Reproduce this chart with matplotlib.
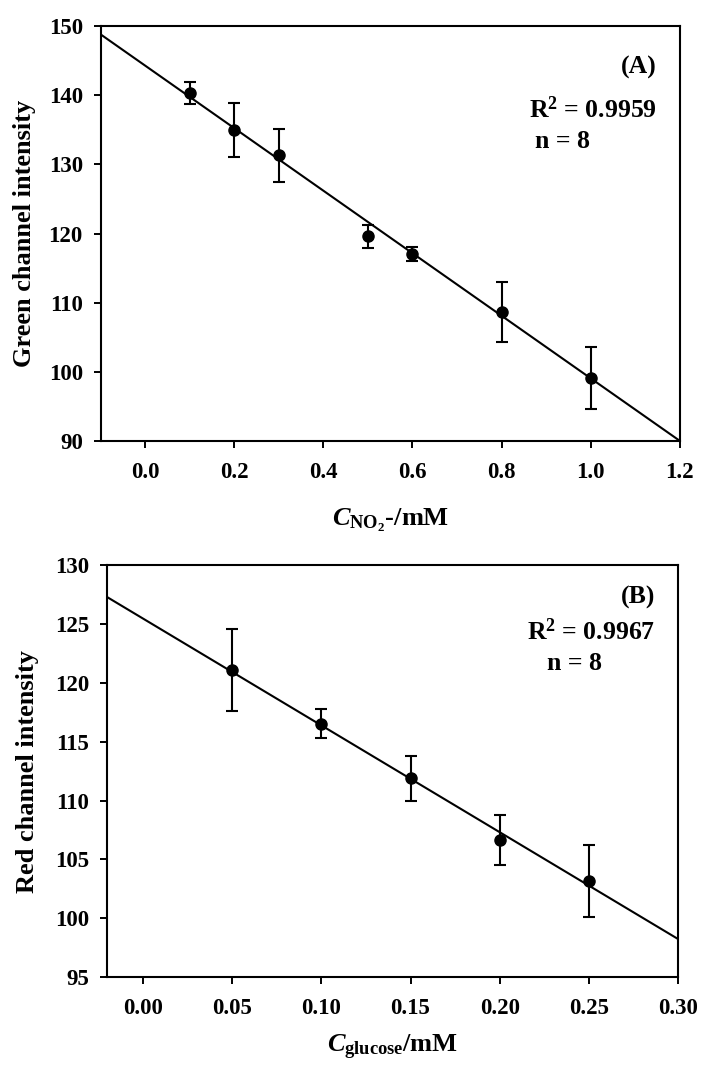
import matplotlib
matplotlib.use("Agg")
import matplotlib.pyplot as plt
import numpy as np

plt.rcParams['font.family'] = ['Liberation Serif', 'DejaVu Serif']
plt.rcParams['font.weight'] = 'bold'
plt.rcParams['mathtext.fontset'] = 'custom'
plt.rcParams['mathtext.rm'] = 'Liberation Serif:bold'
plt.rcParams['mathtext.bf'] = 'Liberation Serif:bold'
plt.rcParams['mathtext.it'] = 'Liberation Serif:italic:bold'

# ---- panel A: nitrite, green channel ----
no2_conc = [0.1, 0.2, 0.3, 0.5, 0.6, 0.8, 1.0]
green_int = [140.35, 135.05, 131.3, 119.6, 117.1, 108.7, 99.15]
green_err = [1.55, 3.9, 3.8, 1.7, 1.0, 4.35, 4.5]
fit_a = (-45.2, 144.28)   # slope, intercept

# ---- panel B: glucose, red channel ----
glu_conc = [0.05, 0.10, 0.15, 0.20, 0.25]
red_int = [121.08, 116.55, 111.88, 106.64, 103.18]
red_err = [3.5, 1.25, 1.95, 2.15, 3.05]
fit_b = (-90.9, 125.49)


def draw_panel(ax, x, y, err, fit, xlim, ylim, xticks, yticks, xfmt,
               xlabel, ylabel, tag, r2, xpad, ylab_x):
    xs = np.array(xlim)
    ax.plot(xs, fit[0] * xs + fit[1], color='black', lw=1.5, zorder=2)
    ax.errorbar(x, y, yerr=err, fmt='o', color='black', ms=8,
                ecolor='black', elinewidth=1.5, capsize=4.5, capthick=1.5,
                zorder=3)
    ax.set_xlim(*xlim)
    ax.set_ylim(*ylim)
    ax.set_xticks(xticks)
    ax.set_xticklabels([xfmt.format(v) for v in xticks])
    ax.set_yticks(yticks)
    ax.tick_params(direction='out', length=5, width=1.4, labelsize=16.5,
                   top=False, right=False)
    ax.tick_params(axis='x', pad=10)
    ax.tick_params(axis='y', pad=8)
    for s in ax.spines.values():
        s.set_linewidth(1.5)
    ax.set_xlabel(xlabel, fontsize=19, fontweight='bold', labelpad=xpad)
    ax.set_ylabel(ylabel, fontsize=19, fontweight='bold')
    ax.yaxis.set_label_coords(ylab_x, 0.5)
    ax.text(0.96, tag[1], tag[0], transform=ax.transAxes, ha='right',
            va='center', fontsize=18.5, fontweight='bold')
    ax.text(0.96, r2[1], r'R$^2$' + ' = ' + r2[0], transform=ax.transAxes,
            ha='right', va='center', fontsize=18.5, fontweight='bold')
    ax.text(r2[2], r2[3], 'n = 8', transform=ax.transAxes, ha='left',
            va='center', fontsize=18.5, fontweight='bold')


fig = plt.figure(figsize=(7.05, 10.83), dpi=100)
ax_a = fig.add_axes([0.143, 0.5928, 0.821, 0.383])
ax_b = fig.add_axes([0.152, 0.0979, 0.810, 0.380])

draw_panel(ax_a, no2_conc, green_int, green_err, fit_a,
           (-0.1, 1.2), (90, 150),
           [0.0, 0.2, 0.4, 0.6, 0.8, 1.0, 1.2], [90, 100, 110, 120, 130, 140, 150],
           '{:.1f}', r'$\mathit{C}_{\mathrm{NO_2}}$-/mM', 'Green channel intensity',
           ('(A)', 0.90), ('0.9959', 0.80, 0.751, 0.723), 17, -0.112)

draw_panel(ax_b, glu_conc, red_int, red_err, fit_b,
           (-0.02, 0.30), (95, 130),
           [0.00, 0.05, 0.10, 0.15, 0.20, 0.25, 0.30],
           [95, 100, 105, 110, 115, 120, 125, 130],
           '{:.2f}', r'$\mathit{C}_{\mathrm{glucose}}$/mM', 'Red channel intensity',
           ('(B)', 0.922), ('0.9967', 0.84, 0.77, 0.762), 10, -0.119)

fig.savefig('out.png', dpi=100)
